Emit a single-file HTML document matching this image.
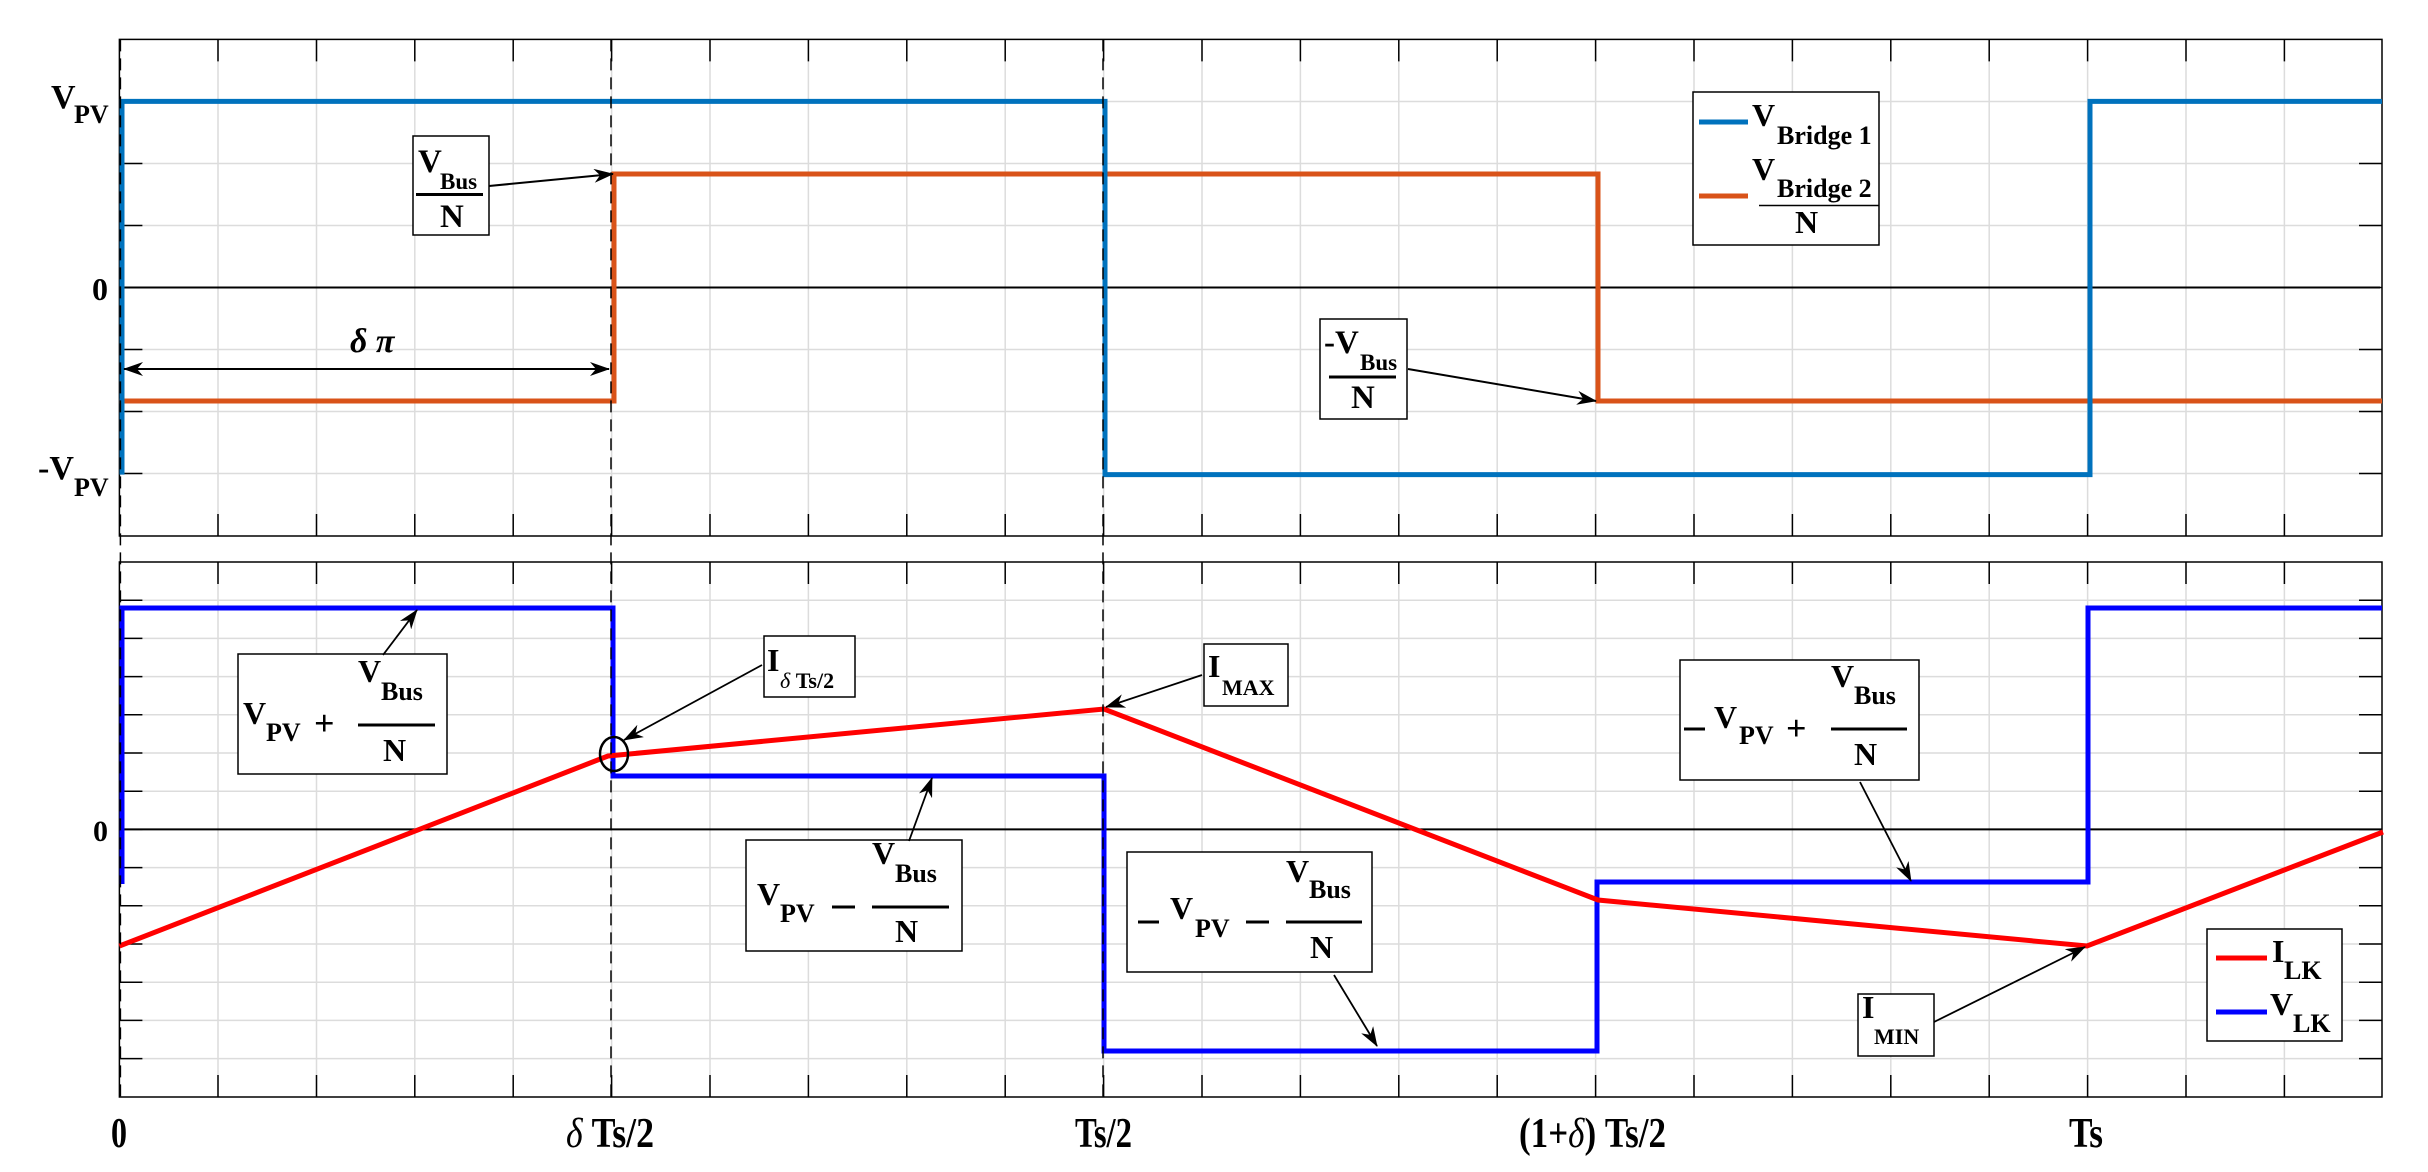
<!DOCTYPE html>
<html><head><meta charset="utf-8"><style>
html,body{margin:0;padding:0;background:#fff;}
svg{display:block;}
text{font-family:"Liberation Serif",serif;font-weight:bold;fill:#000;}
</style></head><body>
<svg width="2428" height="1172" viewBox="0 0 2428 1172" xmlns="http://www.w3.org/2000/svg">
<defs>
<marker id="ah" viewBox="0 0 20 14" refX="19" refY="7" markerWidth="20" markerHeight="14" markerUnits="userSpaceOnUse" orient="auto-start-reverse">
<path d="M0,0 L20,7 L0,14 L6,7 Z" fill="#000"/>
</marker>
</defs>
<rect width="2428" height="1172" fill="#fff"/>

<!-- ===== TOP PLOT ===== -->
<g stroke="#dcdcdc" stroke-width="1.5" fill="none">
<path d="M218,39.4V536 M316.5,39.4V536 M414.8,39.4V536 M513.2,39.4V536 M611.6,39.4V536 M710,39.4V536 M808.4,39.4V536 M906.8,39.4V536 M1005.2,39.4V536 M1103.6,39.4V536 M1202,39.4V536 M1300.4,39.4V536 M1398.8,39.4V536 M1497.2,39.4V536 M1595.6,39.4V536 M1694,39.4V536 M1792.4,39.4V536 M1890.8,39.4V536 M1989.2,39.4V536 M2087.6,39.4V536 M2186,39.4V536 M2284.4,39.4V536"/>
<path d="M119.4,101.5H2382 M119.4,163.5H2382 M119.4,225.5H2382 M119.4,349.5H2382 M119.4,411.5H2382 M119.4,473.5H2382"/>
</g>
<g stroke="#000" stroke-width="1.5" fill="none">
<path d="M218,39.4v22 M316.5,39.4v22 M414.8,39.4v22 M513.2,39.4v22 M611.6,39.4v22 M710,39.4v22 M808.4,39.4v22 M906.8,39.4v22 M1005.2,39.4v22 M1103.6,39.4v22 M1202,39.4v22 M1300.4,39.4v22 M1398.8,39.4v22 M1497.2,39.4v22 M1595.6,39.4v22 M1694,39.4v22 M1792.4,39.4v22 M1890.8,39.4v22 M1989.2,39.4v22 M2087.6,39.4v22 M2186,39.4v22 M2284.4,39.4v22"/>
<path d="M218,536v-22 M316.5,536v-22 M414.8,536v-22 M513.2,536v-22 M611.6,536v-22 M710,536v-22 M808.4,536v-22 M906.8,536v-22 M1005.2,536v-22 M1103.6,536v-22 M1202,536v-22 M1300.4,536v-22 M1398.8,536v-22 M1497.2,536v-22 M1595.6,536v-22 M1694,536v-22 M1792.4,536v-22 M1890.8,536v-22 M1989.2,536v-22 M2087.6,536v-22 M2186,536v-22 M2284.4,536v-22"/>
<path d="M119.4,101.5h23 M119.4,163.5h23 M119.4,225.5h23 M119.4,287.5h23 M119.4,349.5h23 M119.4,411.5h23 M119.4,473.5h23"/>
<path d="M2382,101.5h-23 M2382,163.5h-23 M2382,225.5h-23 M2382,287.5h-23 M2382,349.5h-23 M2382,411.5h-23 M2382,473.5h-23"/>
<rect x="119.4" y="39.4" width="2262.6" height="496.6"/>
<path d="M119.4,287.5H2380" stroke-width="2"/>
</g>
<!-- orange -->
<path d="M119.4,401 H614 V174 H1598 V401 H2382" fill="none" stroke="#D95319" stroke-width="5"/>
<!-- blue -->
<path d="M122,474.6 V101.4 H1105 V474.6 H2090 V101.4 H2382" fill="none" stroke="#0072BD" stroke-width="5"/>

<!-- top labels -->
<text x="51" y="108" font-size="34">V</text><text x="74" y="123" font-size="26">PV</text>
<text x="92" y="300" font-size="32">0</text>
<text x="38" y="479" font-size="34">-V</text><text x="74" y="496" font-size="26">PV</text>

<!-- delta pi -->
<text x="350" y="352" font-size="34" font-style="italic" font-weight="normal">δ π</text>
<line x1="124" y1="369" x2="609" y2="369" stroke="#000" stroke-width="2" marker-start="url(#ah)" marker-end="url(#ah)"/>

<!-- VBus/N box -->
<rect x="413" y="136" width="76" height="99" fill="#fff" stroke="#000" stroke-width="1.5"/>
<text x="418" y="172" font-size="33">V</text><text x="440" y="189" font-size="23">Bus</text>
<line x1="416" y1="194.5" x2="483" y2="194.5" stroke="#000" stroke-width="3"/>
<text x="440" y="227" font-size="33">N</text>
<line x1="489" y1="186" x2="613" y2="174" stroke="#000" stroke-width="2" marker-end="url(#ah)"/>

<!-- -VBus/N box -->
<rect x="1320" y="319" width="87" height="100" fill="#fff" stroke="#000" stroke-width="1.5"/>
<text x="1324" y="353" font-size="33">-V</text><text x="1360" y="370" font-size="23">Bus</text>
<line x1="1329" y1="377" x2="1396" y2="377" stroke="#000" stroke-width="3"/>
<text x="1351" y="408" font-size="33">N</text>
<line x1="1408" y1="369" x2="1596" y2="401" stroke="#000" stroke-width="2" marker-end="url(#ah)"/>

<!-- top legend -->
<rect x="1693" y="92" width="186" height="153" fill="#fff" stroke="#000" stroke-width="1.5"/>
<line x1="1699" y1="122" x2="1748" y2="122" stroke="#0072BD" stroke-width="5"/>
<text x="1752" y="126" font-size="32">V</text><text x="1777" y="144" font-size="26">Bridge 1</text>
<line x1="1699" y1="196" x2="1748" y2="196" stroke="#D95319" stroke-width="5"/>
<text x="1752" y="180" font-size="32">V</text><text x="1777" y="197" font-size="26">Bridge 2</text>
<line x1="1759" y1="205.5" x2="1879" y2="205.5" stroke="#000" stroke-width="1.5"/>
<text x="1795" y="233" font-size="32">N</text>

<!-- ===== BOTTOM PLOT ===== -->
<g stroke="#dcdcdc" stroke-width="1.5" fill="none">
<path d="M218,562V1097 M316.5,562V1097 M414.8,562V1097 M513.2,562V1097 M611.6,562V1097 M710,562V1097 M808.4,562V1097 M906.8,562V1097 M1005.2,562V1097 M1103.6,562V1097 M1202,562V1097 M1300.4,562V1097 M1398.8,562V1097 M1497.2,562V1097 M1595.6,562V1097 M1694,562V1097 M1792.4,562V1097 M1890.8,562V1097 M1989.2,562V1097 M2087.6,562V1097 M2186,562V1097 M2284.4,562V1097"/>
<path d="M119.4,600.2H2382 M119.4,638.4H2382 M119.4,676.6H2382 M119.4,714.8H2382 M119.4,753H2382 M119.4,791.2H2382 M119.4,867.6H2382 M119.4,905.8H2382 M119.4,944H2382 M119.4,982.2H2382 M119.4,1020.4H2382 M119.4,1058.6H2382"/>
</g>
<g stroke="#000" stroke-width="1.5" fill="none">
<path d="M218,562v22 M316.5,562v22 M414.8,562v22 M513.2,562v22 M611.6,562v22 M710,562v22 M808.4,562v22 M906.8,562v22 M1005.2,562v22 M1103.6,562v22 M1202,562v22 M1300.4,562v22 M1398.8,562v22 M1497.2,562v22 M1595.6,562v22 M1694,562v22 M1792.4,562v22 M1890.8,562v22 M1989.2,562v22 M2087.6,562v22 M2186,562v22 M2284.4,562v22"/>
<path d="M218,1097v-22 M316.5,1097v-22 M414.8,1097v-22 M513.2,1097v-22 M611.6,1097v-22 M710,1097v-22 M808.4,1097v-22 M906.8,1097v-22 M1005.2,1097v-22 M1103.6,1097v-22 M1202,1097v-22 M1300.4,1097v-22 M1398.8,1097v-22 M1497.2,1097v-22 M1595.6,1097v-22 M1694,1097v-22 M1792.4,1097v-22 M1890.8,1097v-22 M1989.2,1097v-22 M2087.6,1097v-22 M2186,1097v-22 M2284.4,1097v-22"/>
<path d="M119.4,600.2h23 M119.4,638.4h23 M119.4,676.6h23 M119.4,714.8h23 M119.4,753h23 M119.4,791.2h23 M119.4,829.4h23 M119.4,867.6h23 M119.4,905.8h23 M119.4,944h23 M119.4,982.2h23 M119.4,1020.4h23 M119.4,1058.6h23"/>
<path d="M2382,600.2h-23 M2382,638.4h-23 M2382,676.6h-23 M2382,714.8h-23 M2382,753h-23 M2382,791.2h-23 M2382,829.4h-23 M2382,867.6h-23 M2382,905.8h-23 M2382,944h-23 M2382,982.2h-23 M2382,1020.4h-23 M2382,1058.6h-23"/>
<rect x="119.4" y="562" width="2262.6" height="535"/>
<path d="M119.4,829.4H2382" stroke-width="2"/>
</g>
<!-- blue VLK -->
<path d="M122,884 V608 H613 V776 H1104 V1051 H1597 V882 H2088 V608 H2382" fill="none" stroke="#0000FF" stroke-width="5"/>
<!-- red ILK -->
<path d="M119.4,946 L608,756 L1104,709 L1598,900 L2087,946 L2383,832" fill="none" stroke="#FF0000" stroke-width="5"/>

<!-- dashed verticals -->
<g stroke="#000" stroke-width="1.5" stroke-dasharray="12,7" fill="none">
<path d="M120.4,39.4V1097 M611,39.4V1097 M1103,39.4V1097"/>
</g>

<!-- circle -->
<ellipse cx="614" cy="754" rx="14" ry="17" fill="none" stroke="#000" stroke-width="2.5"/>

<!-- lower labels -->
<text x="93" y="841" font-size="30">0</text>
<text x="111" y="1147" font-size="42" textLength="16" lengthAdjust="spacingAndGlyphs">0</text>
<text x="566" y="1147" font-size="42" textLength="88" lengthAdjust="spacingAndGlyphs"><tspan font-style="italic" font-weight="normal">δ</tspan> Ts/2</text>
<text x="1075" y="1147" font-size="42" textLength="57" lengthAdjust="spacingAndGlyphs">Ts/2</text>
<text x="1519" y="1147" font-size="42" textLength="147" lengthAdjust="spacingAndGlyphs">(1+<tspan font-style="italic" font-weight="normal">δ</tspan>) Ts/2</text>
<text x="2069" y="1147" font-size="42" textLength="34" lengthAdjust="spacingAndGlyphs">Ts</text>

<!-- box VPV + VBus/N -->
<rect x="238" y="654" width="209" height="120" fill="#fff" stroke="#000" stroke-width="1.5"/>
<text x="243" y="724" font-size="32">V</text><text x="266" y="741" font-size="26">PV</text>
<text x="314" y="735" font-size="36" font-weight="normal">+</text>
<line x1="358" y1="725" x2="435" y2="725" stroke="#000" stroke-width="3"/>
<text x="358" y="682" font-size="32">V</text><text x="381" y="700" font-size="26">Bus</text>
<text x="383" y="761" font-size="32">N</text>
<line x1="383" y1="655" x2="417" y2="610" stroke="#000" stroke-width="1.8" marker-end="url(#ah)"/>

<!-- I delta Ts/2 -->
<rect x="764" y="636" width="91" height="61" fill="#fff" stroke="#000" stroke-width="1.5"/>
<text x="767" y="671" font-size="32">I</text><text x="780" y="688" font-size="22"><tspan font-style="italic" font-weight="normal">δ</tspan> Ts/2</text>
<line x1="762" y1="665" x2="624" y2="740" stroke="#000" stroke-width="1.8" marker-end="url(#ah)"/>

<!-- box VPV - VBus/N -->
<rect x="746" y="840" width="216" height="111" fill="#fff" stroke="#000" stroke-width="1.5"/>
<text x="757" y="905" font-size="32">V</text><text x="780" y="922" font-size="26">PV</text>
<line x1="832" y1="907" x2="855" y2="907" stroke="#000" stroke-width="3"/>
<line x1="872" y1="907" x2="949" y2="907" stroke="#000" stroke-width="3"/>
<text x="872" y="864" font-size="32">V</text><text x="895" y="882" font-size="26">Bus</text>
<text x="895" y="942" font-size="32">N</text>
<line x1="909" y1="841" x2="932" y2="778" stroke="#000" stroke-width="1.8" marker-end="url(#ah)"/>

<!-- I_MAX -->
<rect x="1204" y="644" width="84" height="62" fill="#fff" stroke="#000" stroke-width="1.5"/>
<text x="1208" y="677" font-size="32">I</text><text x="1222" y="695" font-size="22">MAX</text>
<line x1="1202" y1="675" x2="1106" y2="707" stroke="#000" stroke-width="1.8" marker-end="url(#ah)"/>

<!-- box -VPV - VBus/N -->
<rect x="1127" y="852" width="245" height="120" fill="#fff" stroke="#000" stroke-width="1.5"/>
<line x1="1138" y1="922" x2="1159" y2="922" stroke="#000" stroke-width="3"/>
<text x="1170" y="919" font-size="32">V</text><text x="1195" y="937" font-size="26">PV</text>
<line x1="1246" y1="922" x2="1269" y2="922" stroke="#000" stroke-width="3"/>
<line x1="1286" y1="922" x2="1362" y2="922" stroke="#000" stroke-width="3"/>
<text x="1286" y="882" font-size="32">V</text><text x="1309" y="898" font-size="26">Bus</text>
<text x="1310" y="958" font-size="32">N</text>
<line x1="1334" y1="975" x2="1377" y2="1046" stroke="#000" stroke-width="1.8" marker-end="url(#ah)"/>

<!-- box -VPV + VBus/N -->
<rect x="1680" y="660" width="239" height="120" fill="#fff" stroke="#000" stroke-width="1.5"/>
<line x1="1684" y1="729" x2="1705" y2="729" stroke="#000" stroke-width="3"/>
<text x="1714" y="728" font-size="32">V</text><text x="1739" y="744" font-size="26">PV</text>
<text x="1786" y="740" font-size="36" font-weight="normal">+</text>
<line x1="1831" y1="729" x2="1907" y2="729" stroke="#000" stroke-width="3"/>
<text x="1831" y="687" font-size="32">V</text><text x="1854" y="704" font-size="26">Bus</text>
<text x="1854" y="765" font-size="32">N</text>
<line x1="1860" y1="782" x2="1911" y2="881" stroke="#000" stroke-width="1.8" marker-end="url(#ah)"/>

<!-- I_MIN -->
<rect x="1858" y="994" width="76" height="62" fill="#fff" stroke="#000" stroke-width="1.5"/>
<text x="1862" y="1018" font-size="32">I</text><text x="1874" y="1044" font-size="22">MIN</text>
<line x1="1934" y1="1022" x2="2085" y2="947" stroke="#000" stroke-width="1.8" marker-end="url(#ah)"/>

<!-- lower legend -->
<rect x="2207" y="929" width="135" height="112" fill="#fff" stroke="#000" stroke-width="1.5"/>
<line x1="2216" y1="958" x2="2267" y2="958" stroke="#FF0000" stroke-width="5"/>
<text x="2272" y="962" font-size="32">I</text><text x="2284" y="979" font-size="26">LK</text>
<line x1="2216" y1="1012" x2="2267" y2="1012" stroke="#0000FF" stroke-width="5"/>
<text x="2270" y="1015" font-size="32">V</text><text x="2293" y="1032" font-size="26">LK</text>
</svg>
</body></html>
